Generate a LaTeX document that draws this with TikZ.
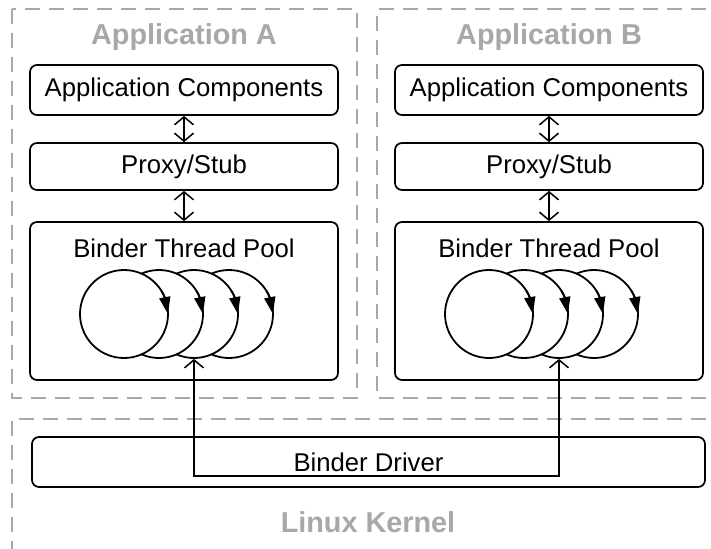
\documentclass[tikz,border=0pt]{standalone}
\usepackage{fontspec}
\setmainfont{Liberation Sans}
\usetikzlibrary{arrows.meta,bending}
\definecolor{grp}{HTML}{A8A8A8}
\begin{document}
\begin{tikzpicture}[x=1pt,y=-1pt,
  box/.style={draw, line width=1.7pt, rounded corners=7pt, fill=white,
    inner sep=0pt, font=\fontsize{25.7}{30}\selectfont},
  txt/.style={inner sep=0pt, font=\fontsize{25.7}{30}\selectfont},
  group/.style={draw=grp, line width=1.9pt, dash pattern=on 15pt off 9pt},
  title/.style={text=grp, inner sep=0pt, font=\bfseries\fontsize{28.8}{33}\selectfont},
  wheel/.style={circle, draw, fill=white, line width=1.8pt, minimum size=88pt, inner sep=0pt},
  turn/.style={line width=1.8pt, -{Triangle[length=17pt,width=11pt]}},
  dbl/.style={line width=1.5pt, {Straight Barb[length=8pt,width=19pt]}-{Straight Barb[length=8pt,width=19pt]}},
  link/.style={line width=1.5pt, {Straight Barb[length=8pt,width=19pt]}-{Straight Barb[length=8pt,width=19pt]}}
]
\useasboundingbox (0,0) rectangle (711,548);
\fill[white] (0,0) rectangle (711,548);

% dashed containers
\draw[group] (12,9) rectangle (357,398);
\draw[group] (730,9) -- (377,9) -- (377,398) -- (730,398);
\draw[group] (730,419) -- (12,419) -- (12,560);

% titles
\node[title] (tA) at (184,37) {Application A};
\node[title] (tB) at (549,37) {Application B};
\node[title] (tK) at (368,522) {Linux Kernel};

% application stacks
\foreach \s/\cx in {A/184,B/549}{
  \node[box, minimum width=308pt, minimum height=50pt] (comp\s) at (\cx,90) {Application Components};
  \node[box, minimum width=308pt, minimum height=47pt] (proxy\s) at (\cx,166.5) {Proxy/Stub};
  \node[box, minimum width=308pt, minimum height=158pt] (pool\s) at (\cx,301) {};
  \node[txt] (poolt\s) at (\cx,248) {Binder Thread Pool};
  \draw[dbl] (comp\s.south) -- (proxy\s.north);
  \draw[dbl] (proxy\s.south) -- (pool\s.north);
  % thread wheels, back to front
  \foreach \k in {4,3,2,1}{
    \node[wheel] (c\s\k) at ({\cx-60+35*(\k-1)},314) {};
    \draw[turn] ([shift={(-32:44)}]c\s\k.center) arc (-32:0:44);
  }
}

% kernel driver
\node[box, minimum width=673pt, minimum height=50pt] (drv) at (368.5,462) {Binder Driver};

% link between the two thread pools through the driver
\coordinate (la) at (cA3.south |- 0,476);
\coordinate (lb) at (cB3.south |- 0,476);
\draw[link] (cA3.south) -- (la) -- (lb) -- (cB3.south);
\end{tikzpicture}
\end{document}
